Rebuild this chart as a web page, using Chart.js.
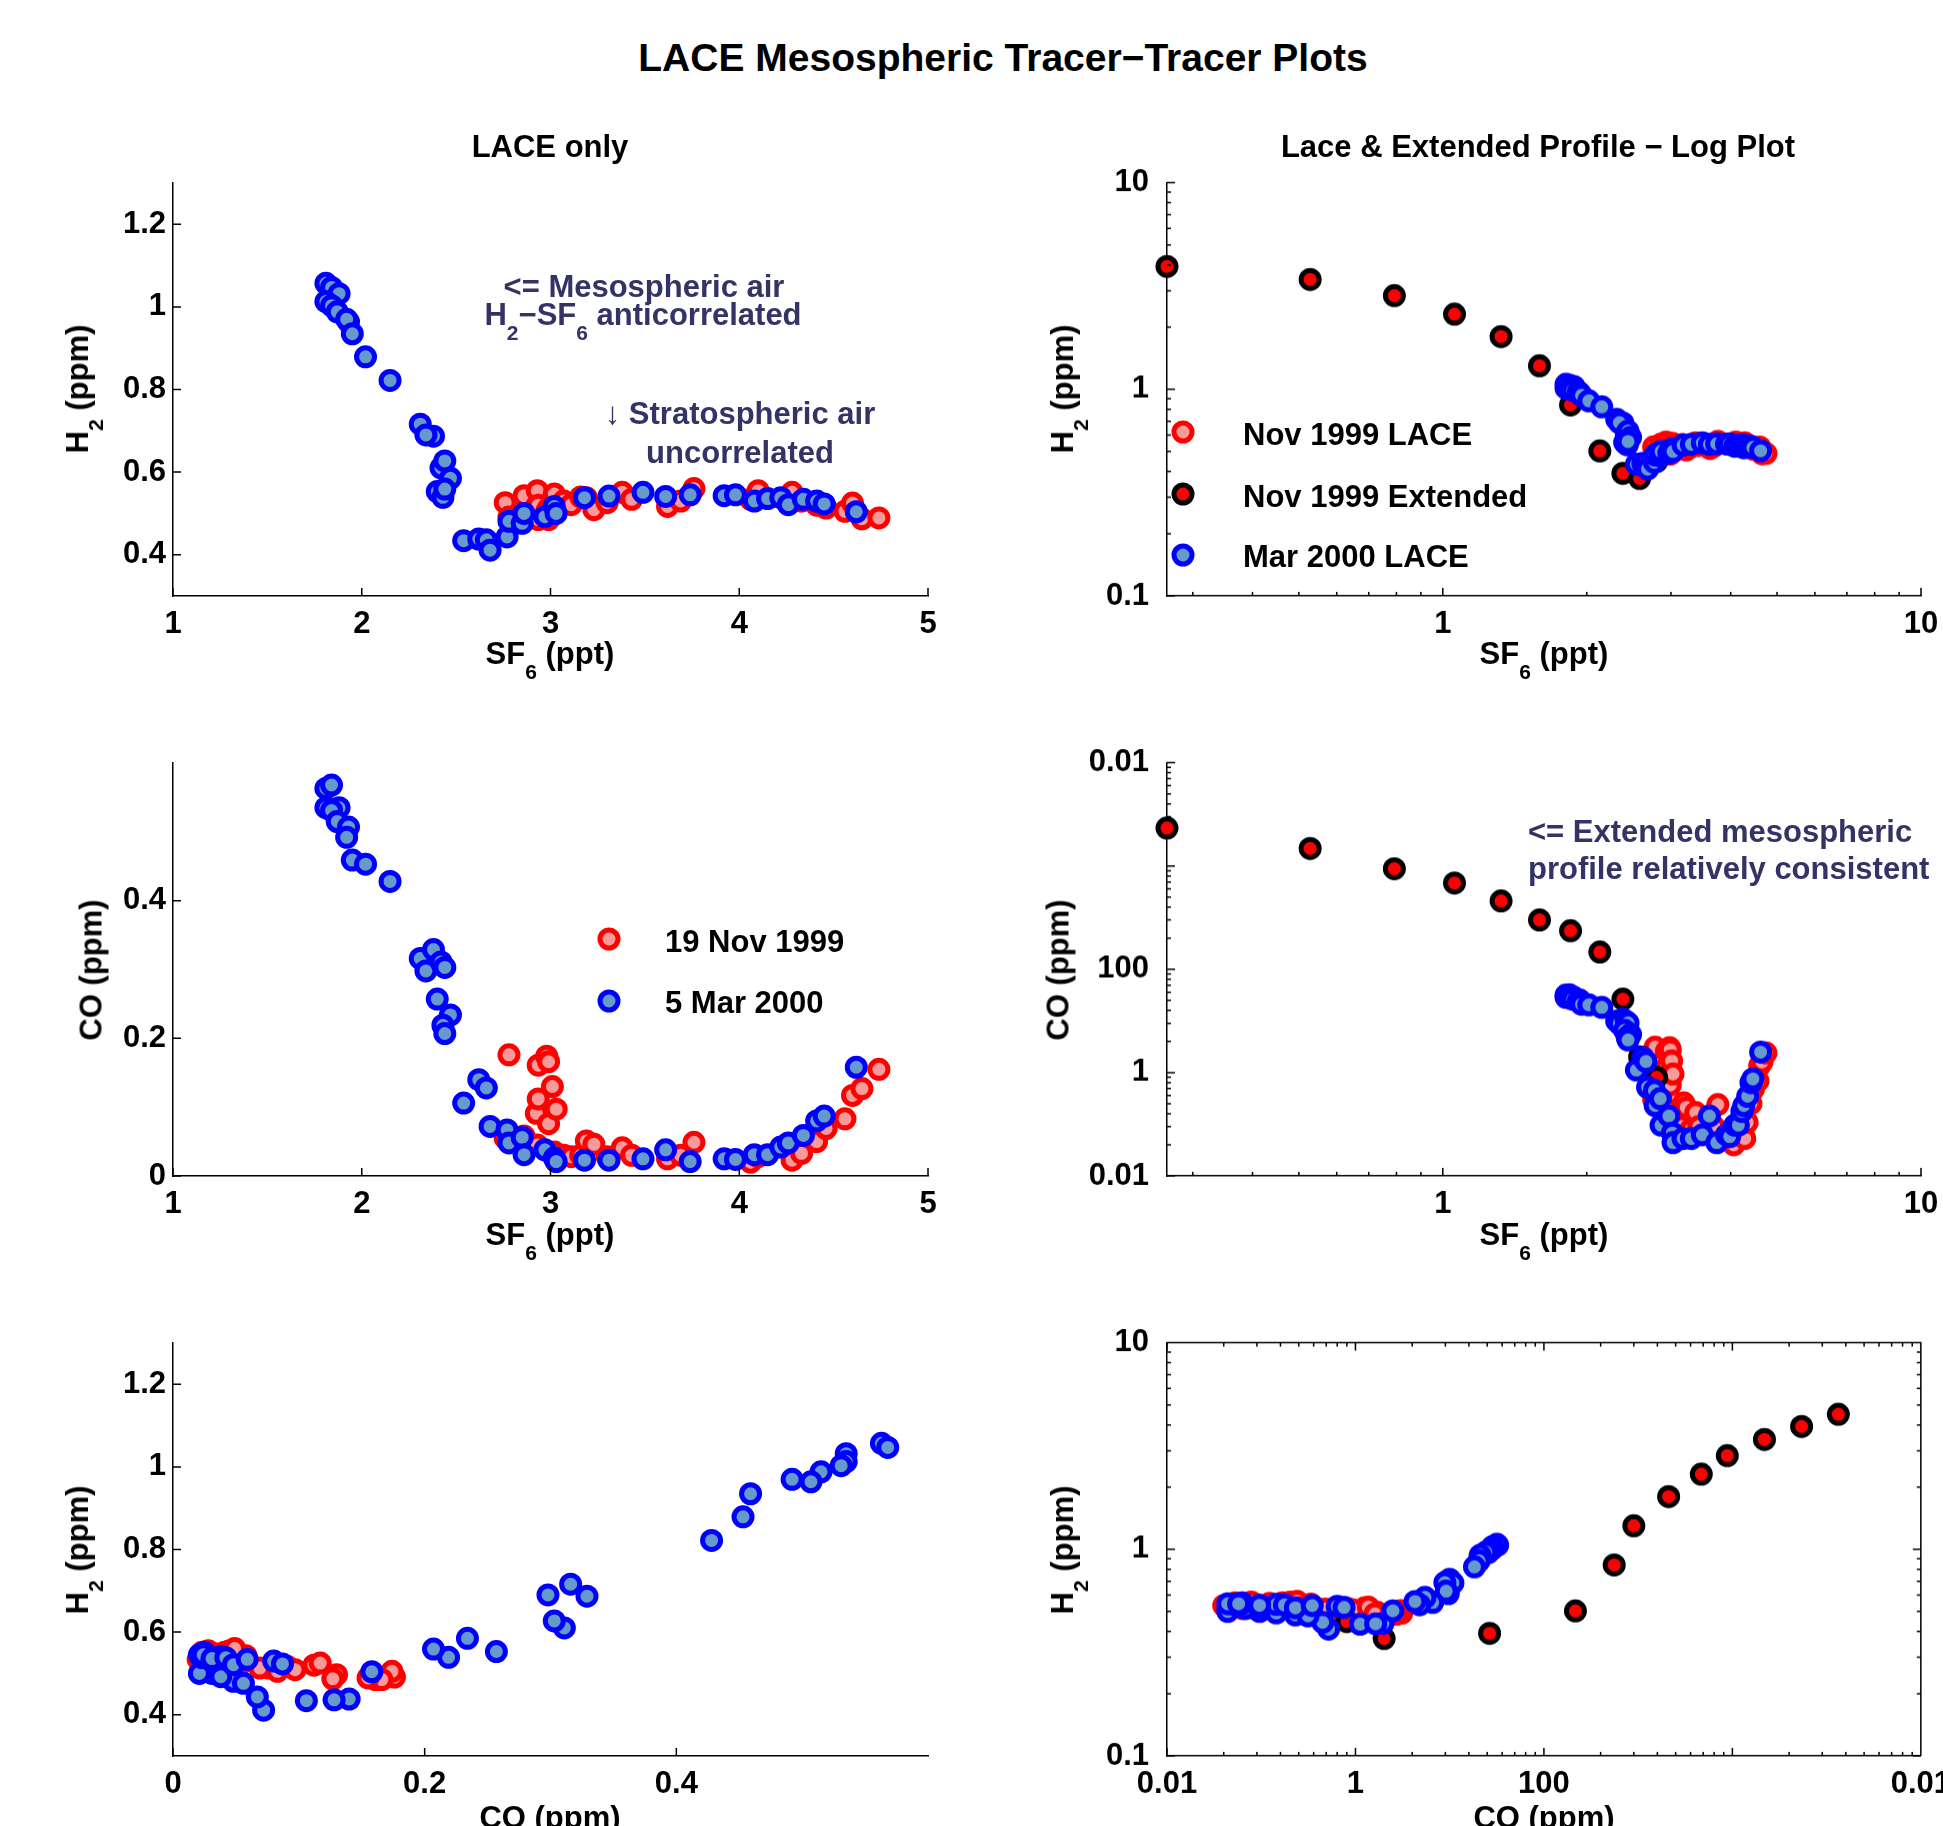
<!DOCTYPE html>
<html>
<head>
<meta charset="utf-8">
<script src="https://cdn.jsdelivr.net/npm/chart.js@4.4.1/dist/chart.umd.min.js"></script>
<style>
html, body { margin: 0; padding: 0; background: #fff; }
body { width: 1943px; height: 1826px; position: relative; overflow: hidden;
  font-family: "Liberation Sans", Arial, Helvetica, sans-serif; font-weight: bold; color: #000; }
.t { position: absolute; white-space: nowrap; }
.sub { position: relative; top: 15px; font-size: 21px; }
.box { position: absolute; }
.mk { position: absolute; width: 13px; height: 13px; border-radius: 50%; border: 5px solid; transform: translate(-50%, -50%); }
</style>
</head>
<body>
<script>
// Mar 2000 LACE
const marSF6 = [1.81, 1.84, 1.88, 1.81, 1.84, 1.87, 1.93, 1.92, 1.95, 2.02, 2.15, 2.31, 2.38, 2.34, 2.42, 2.44,
  2.40, 2.47, 2.43, 2.44, 2.54, 2.62, 2.66, 2.68, 2.77, 2.78, 2.85, 2.86, 2.97, 3.02, 3.03, 3.18, 3.31, 3.49,
  3.61, 3.74, 3.92, 3.98, 4.08, 4.15, 4.22, 4.26, 4.34, 4.41, 4.45, 4.62];
const marH2 = [1.057, 1.047, 1.032, 1.013, 1.003, 0.988, 0.964, 0.970, 0.935, 0.879, 0.822, 0.716, 0.687, 0.690,
  0.610, 0.627, 0.553, 0.585, 0.539, 0.559, 0.434, 0.438, 0.436, 0.411, 0.443, 0.481, 0.476, 0.500, 0.492, 0.517,
  0.500, 0.538, 0.542, 0.551, 0.541, 0.545, 0.543, 0.545, 0.530, 0.536, 0.538, 0.521, 0.534, 0.530, 0.523, 0.504];
const marCO = [0.563, 0.568, 0.535, 0.535, 0.531, 0.515, 0.507, 0.492, 0.459, 0.453, 0.428, 0.316, 0.329, 0.298,
  0.311, 0.303, 0.257, 0.234, 0.219, 0.207, 0.106, 0.140, 0.128, 0.072, 0.067, 0.048, 0.056, 0.031, 0.038, 0.026,
  0.021, 0.023, 0.023, 0.025, 0.038, 0.021, 0.025, 0.024, 0.031, 0.031, 0.042, 0.048, 0.059, 0.080, 0.087, 0.158];

// Nov 1999 LACE
const novSF6 = [2.76, 2.78, 2.86, 2.925, 2.93, 2.935, 2.935, 2.98, 2.99, 2.99, 3.01, 3.02, 3.03, 3.07, 3.11, 3.16,
  3.19, 3.23, 3.30, 3.38, 3.43, 3.62, 3.69, 3.76, 4.06, 4.10, 4.28, 4.33, 4.41, 4.46, 4.56, 4.60, 4.65, 4.74];
const novH2 = [0.526, 0.491, 0.543, 0.517, 0.555, 0.485, 0.520, 0.505, 0.485, 0.513, 0.497, 0.547, 0.509, 0.530,
  0.521, 0.540, 0.538, 0.509, 0.526, 0.551, 0.534, 0.517, 0.530, 0.560, 0.534, 0.555, 0.551, 0.530, 0.520, 0.513,
  0.505, 0.525, 0.487, 0.489];
const novCO = [0.055, 0.176, 0.058, 0.091, 0.045, 0.161, 0.112, 0.174, 0.166, 0.076, 0.130, 0.035, 0.097, 0.030,
  0.028, 0.030, 0.051, 0.046, 0.028, 0.041, 0.030, 0.025, 0.030, 0.049, 0.020, 0.028, 0.023, 0.033, 0.050, 0.069,
  0.083, 0.117, 0.127, 0.155];

// Nov 1999 extended profile
const extSF6 = [0.15, 0.265, 0.528, 0.792, 1.058, 1.324, 1.593, 1.85, 2.13, 2.38, 2.58, 2.80];
const extH2 = [4.50, 3.93, 3.40, 2.84, 2.31, 1.80, 1.30, 0.84, 0.503, 0.392, 0.37, 0.447];
const extCO = [36.5, 23.3, 14.8, 9.4, 6.84, 4.59, 3.0, 2.36, 1.47, 0.515, 0.142, 0.09];

// ticks
const linSF6Ticks = [1, 2, 3, 4, 5];
const linH2Ticks = [0.4, 0.6, 0.8, 1, 1.2];
const linCOTicks = [0, 0.2, 0.4];
const logSF6Ticks = [1, 10];
const logH2Ticks = [0.1, 1, 10];
const logCOTicks = [0.01, 0.1, 1, 10, 100];
const logCOLabels = ['0.01', '1', '100', '', '0.01'];   // as printed on the original

const FONT = '"Liberation Sans", Arial, Helvetica, sans-serif';
const PAD_L = 130, PAD_R = 40, PAD_T = 30, PAD_B = 70, H = 413;

const STY = {
  nov: { border: '#ff0000', fill: '#f99a9a' },
  ext: { border: '#000000', fill: '#ff0000' },
  mar: { border: '#0000ff', fill: '#6699cc' }
};

function logMinors(min, max) {
  const out = [];
  for (let e = Math.floor(Math.log10(min)); e < Math.ceil(Math.log10(max)); e++) {
    for (let m = 2; m <= 9; m++) {
      const v = m * Math.pow(10, e);
      if (v >= min && v <= max) out.push(v);
    }
  }
  return out;
}

function pts(xs, ys, key) {
  return {
    label: key,
    data: xs.map((x, i) => ({ x: x, y: ys[i] })),
    showLine: false,
    pointRadius: 9, pointHoverRadius: 9,
    pointBorderWidth: 5, pointHoverBorderWidth: 5,
    pointBackgroundColor: STY[key].fill,
    pointBorderColor: STY[key].border,
    clip: 14
  };
}

function scale(pos, type, min, max, ticks, labels, pad) {
  return {
    type: type, position: pos, min: min, max: max,
    afterBuildTicks: s => { s.ticks = ticks.map(v => ({ value: v })); },
    afterFit: s => { if (pos === 'bottom') s.height = PAD_B; else s.width = PAD_L; },
    ticks: {
      autoSkip: false, maxRotation: 0, minRotation: 0, color: '#000', padding: pad,
      font: { family: FONT, size: 31, weight: 'bold' },
      callback: (v, i) => labels ? labels[i] : String(ticks[i])
    },
    grid: { display: false, drawTicks: false },
    border: { display: true, color: '#000', width: 1.5 }
  };
}

// inward tick marks, matlab style
function tickPlugin(minX, minY, box) {
  return {
    id: 'inTicks',
    afterDraw(chart) {
      const ctx = chart.ctx, a = chart.chartArea;
      const xs = chart.scales.x, ys = chart.scales.y;
      ctx.save();
      ctx.strokeStyle = '#000';
      ctx.lineWidth = 1.5;
      ctx.beginPath();
      const xt = (v, len) => {
        const p = xs.getPixelForValue(v);
        ctx.moveTo(p, a.bottom); ctx.lineTo(p, a.bottom - len);
        if (box) { ctx.moveTo(p, a.top); ctx.lineTo(p, a.top + len); }
      };
      const yt = (v, len) => {
        const p = ys.getPixelForValue(v);
        ctx.moveTo(a.left, p); ctx.lineTo(a.left + len, p);
        if (box) { ctx.moveTo(a.right, p); ctx.lineTo(a.right - len, p); }
      };
      xs.ticks.forEach(t => xt(t.value, 8));
      ys.ticks.forEach(t => yt(t.value, 8));
      (minX || []).forEach(v => xt(v, 4));
      (minY || []).forEach(v => yt(v, 4));
      if (box) { ctx.moveTo(a.left, a.top); ctx.lineTo(a.right, a.top); ctx.lineTo(a.right, a.bottom); }
      ctx.stroke();
      ctx.restore();
    }
  };
}

const specs = [
  { x: 173, y: 183, w: 755,
    sx: () => scale('bottom', 'linear', 1, 5, linSF6Ticks, null, 10),
    sy: () => scale('left', 'linear', 0.3, 1.3, linH2Ticks, null, 7),
    data: () => [pts(marSF6, marH2, 'mar'), pts(novSF6, novH2, 'nov')] },
  { x: 1167, y: 183, w: 754, box: false,
    minX: logMinors(0.265, 10), minY: logMinors(0.1, 10),
    sx: () => scale('bottom', 'logarithmic', 0.265, 10, logSF6Ticks, null, 10),
    sy: () => scale('left', 'logarithmic', 0.1, 10, logH2Ticks, null, 18),
    data: () => [pts(marSF6, marH2, 'mar'), pts(extSF6, extH2, 'ext'), pts(novSF6, novH2, 'nov')] },
  { x: 173, y: 763, w: 755,
    sx: () => scale('bottom', 'linear', 1, 5, linSF6Ticks, null, 10),
    sy: () => scale('left', 'linear', 0, 0.6, linCOTicks, null, 7),
    data: () => [pts(marSF6, marCO, 'mar'), pts(novSF6, novCO, 'nov')] },
  { x: 1167, y: 763, w: 754,
    minX: logMinors(0.265, 10), minY: logMinors(0.01, 100),
    sx: () => scale('bottom', 'logarithmic', 0.265, 10, logSF6Ticks, null, 10),
    sy: () => scale('left', 'logarithmic', 0.01, 100, logCOTicks, logCOLabels, 18),
    data: () => [pts(marSF6, marCO, 'mar'), pts(extSF6, extCO, 'ext'), pts(novSF6, novCO, 'nov')] },
  { x: 173, y: 1343, w: 755,
    sx: () => scale('bottom', 'linear', 0, 0.6, linCOTicks, null, 10),
    sy: () => scale('left', 'linear', 0.3, 1.3, linH2Ticks, null, 7),
    data: () => [pts(marCO, marH2, 'mar'), pts(novCO, novH2, 'nov')] },
  { x: 1167, y: 1343, w: 754, box: true,
    minX: logMinors(0.01, 100), minY: logMinors(0.1, 10),
    sx: () => scale('bottom', 'logarithmic', 0.01, 100, logCOTicks, logCOLabels, 10),
    sy: () => scale('left', 'logarithmic', 0.1, 10, logH2Ticks, null, 18),
    data: () => [pts(marCO, marH2, 'mar'), pts(extCO, extH2, 'ext'), pts(novCO, novH2, 'nov')] }
];

function build(sp) {
  const wrap = document.createElement('div');
  wrap.className = 'box';
  document.body.appendChild(wrap);
  let cw = sp.w + PAD_L + PAD_R, ch = H + PAD_T + PAD_B;
  const make = () => {
    wrap.innerHTML = '';
    const c = document.createElement('canvas');
    c.width = cw; c.height = ch;
    c.style.width = cw + 'px'; c.style.height = ch + 'px';
    wrap.appendChild(c);
    return new Chart(c, {
      type: 'scatter',
      data: { datasets: sp.data() },
      options: {
        responsive: false, animation: false, events: [],
        layout: { padding: { top: PAD_T, right: PAD_R, left: 0, bottom: 0 } },
        scales: { x: sp.sx(), y: sp.sy() },
        plugins: { legend: { display: false }, tooltip: { enabled: false } }
      },
      plugins: [tickPlugin(sp.minX, sp.minY, sp.box)]
    });
  };
  let chart = make();
  let a = chart.chartArea;
  const dw = sp.w - (a.right - a.left), dh = H - (a.bottom - a.top);
  if (Math.abs(dw) > 0.5 || Math.abs(dh) > 0.5) {
    chart.destroy();
    cw += dw; ch += dh;
    chart = make();
    a = chart.chartArea;
  }
  wrap.style.left = (sp.x - a.left) + 'px';
  wrap.style.top = (sp.y - a.top) + 'px';
}

specs.forEach(build);

// text
function txt(html, x, base, o) {
  o = o || {};
  const s = o.size || 31;
  const d = document.createElement('div');
  d.className = 't';
  d.innerHTML = html;
  d.style.fontSize = s + 'px';
  d.style.lineHeight = s + 'px';
  if (o.color) d.style.color = o.color;
  d.style.top = (base - 0.8465 * s) + 'px';
  d.style.left = x + 'px';
  if (o.align !== 'left') d.style.transform = 'translateX(-50%)';
  document.body.appendChild(d);
}
function vtxt(html, cx, cy) {
  const d = document.createElement('div');
  d.className = 't';
  d.innerHTML = html;
  d.style.fontSize = '31px';
  d.style.lineHeight = '31px';
  d.style.left = cx + 'px';
  d.style.top = cy + 'px';
  d.style.transform = 'translate(-50%, -50%) rotate(-90deg)';
  document.body.appendChild(d);
}
function marker(key, cx, cy) {
  const m = document.createElement('div');
  m.className = 'mk';
  m.style.left = cx + 'px';
  m.style.top = cy + 'px';
  m.style.borderColor = STY[key].border;
  m.style.background = STY[key].fill;
  document.body.appendChild(m);
}

const NOTE = '#333366';
const H2 = 'H<span class="sub">2</span> (ppm)';
const SF6 = 'SF<span class="sub">6</span> (ppt)';

txt('LACE Mesospheric Tracer\u2212Tracer Plots', 1003, 71, { size: 39 });
txt('LACE only', 550, 157);
txt('Lace &amp; Extended Profile \u2212 Log Plot', 1538, 157);

txt(SF6, 550, 664); txt(SF6, 1544, 664);
txt(SF6, 550, 1245); txt(SF6, 1544, 1245);
txt('CO (ppm)', 550, 1828); txt('CO (ppm)', 1544, 1828);
vtxt(H2, 79, 389); vtxt(H2, 1064, 389);
vtxt('CO (ppm)', 91, 970); vtxt('CO (ppm)', 1058, 970);
vtxt(H2, 79, 1550); vtxt(H2, 1064, 1550);

txt('&lt;= Mesospheric air', 644, 297, { color: NOTE });
txt('H<span class="sub">2</span>\u2212SF<span class="sub">6</span> anticorrelated', 643, 325, { color: NOTE });
txt('\u2193 Stratospheric air', 740, 424, { color: NOTE });
txt('uncorrelated', 740, 463, { color: NOTE });
txt('&lt;= Extended mesospheric', 1528, 842, { color: NOTE, align: 'left' });
txt('profile relatively consistent', 1528, 879, { color: NOTE, align: 'left' });

marker('nov', 1183, 432); txt('Nov 1999 LACE', 1243, 445, { align: 'left' });
marker('ext', 1183, 494); txt('Nov 1999 Extended', 1243, 507, { align: 'left' });
marker('mar', 1183, 555); txt('Mar 2000 LACE', 1243, 567, { align: 'left' });

marker('nov', 609, 939); txt('19 Nov 1999', 665, 952, { align: 'left' });
marker('mar', 609, 1001); txt('5 Mar 2000', 665, 1013, { align: 'left' });
</script>
</body>
</html>
